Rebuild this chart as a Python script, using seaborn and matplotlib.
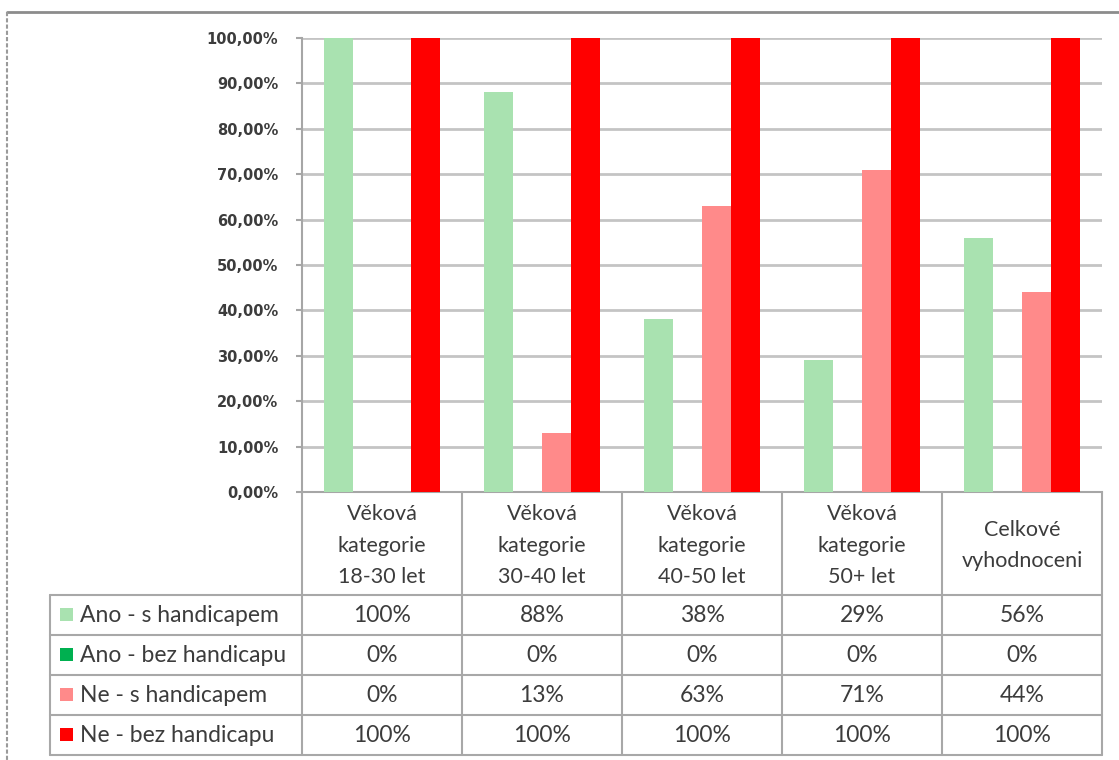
import matplotlib
matplotlib.use("Agg")
import matplotlib.pyplot as plt
from matplotlib.lines import Line2D
from matplotlib.patches import Rectangle
import seaborn as sns
import pandas as pd

# Categories (age groups + overall) and series values in percent
categories = [
    "Věková\nkategorie\n18-30 let",
    "Věková\nkategorie\n30-40 let",
    "Věková\nkategorie\n40-50 let",
    "Věková\nkategorie\n50+ let",
    "Celkové\nvyhodnoceni",
]
series_names = [
    "Ano - s handicapem",
    "Ano - bez handicapu",
    "Ne - s handicapem",
    "Ne - bez handicapu",
]
ano_s_handicapem = [100, 88, 38, 29, 56]
ano_bez_handicapu = [0, 0, 0, 0, 0]
ne_s_handicapem = [0, 13, 63, 71, 44]
ne_bez_handicapu = [100, 100, 100, 100, 100]
y_ticks = [0, 10, 20, 30, 40, 50, 60, 70, 80, 90, 100]

series_values = [ano_s_handicapem, ano_bez_handicapu, ne_s_handicapem, ne_bez_handicapu]
colors = ["#a9e2b0", "#00b050", "#ff8a8a", "#ff0000"]

rows = []
for name, vals in zip(series_names, series_values):
    for cat, v in zip(categories, vals):
        rows.append({"kategorie": cat, "serie": name, "hodnota": v})
df = pd.DataFrame(rows)

sns.set_theme(style="white")
plt.rcParams["font.family"] = ["Lato", "DejaVu Sans"]

W, H = 1119, 760
fig = plt.figure(figsize=(W / 100, H / 100), dpi=100)
fig.patch.set_facecolor("white")

# Plot area in pixel layout
px_left, px_right, px_top, px_bottom = 302, 1102, 38, 492
ax = fig.add_axes([px_left / W, 1 - px_bottom / H, (px_right - px_left) / W, (px_bottom - px_top) / H])

sns.barplot(
    data=df, x="kategorie", y="hodnota", hue="serie", hue_order=series_names,
    order=categories, palette=colors, saturation=1, width=0.725, linewidth=0,
    legend=False, ax=ax, zorder=3,
)

grid_col = "#c4c4c4"
axis_col = "#a6a6a6"
text_col = "#3c3c3c"

ax.set_ylim(0, 100)
ax.set_xlim(-0.5, len(categories) - 0.5)
ax.set_yticks(y_ticks)
ax.set_yticklabels([f"{t:.2f}".replace(".", ",") + "%" for t in y_ticks],
                   fontfamily="DejaVu Sans", fontweight="bold", fontsize=10.5, color=text_col)
ax.tick_params(axis="y", length=4, width=1.5, color=axis_col, pad=13, left=True)
ax.tick_params(axis="x", length=0, labelbottom=False)
ax.set_xlabel("")
ax.set_ylabel("")
ax.yaxis.grid(True, color=grid_col, linewidth=2, zorder=0)
ax.set_axisbelow(True)
for side in ["top", "right"]:
    ax.spines[side].set_visible(False)
for side in ["left", "bottom"]:
    ax.spines[side].set_color(axis_col)
    ax.spines[side].set_linewidth(1.5)

# Overlay axes in pixel coordinates for the data table and frame
ov = fig.add_axes([0, 0, 1, 1], zorder=5)
ov.set_xlim(0, W)
ov.set_ylim(H, 0)
ov.axis("off")
ov.patch.set_alpha(0)

line_col = "#a8a8a8"
lw = 1.5
col_w = (px_right - px_left) / len(categories)
col_x = [px_left + i * col_w for i in range(len(categories) + 1)]
header_bottom = 595
row_h = 40
row_y = [header_bottom + i * row_h for i in range(len(series_names) + 1)]
legend_left = 50

# vertical column lines
for x in col_x:
    ov.add_line(Line2D([x, x], [px_bottom, row_y[-1]], color=line_col, lw=lw))
ov.add_line(Line2D([legend_left, legend_left], [header_bottom, row_y[-1]], color=line_col, lw=lw))
# horizontal row lines
for y in row_y:
    ov.add_line(Line2D([legend_left, px_right], [y, y], color=line_col, lw=lw))

# header cells
for i, cat in enumerate(categories):
    cx = (col_x[i] + col_x[i + 1]) / 2
    ov.text(cx, (px_bottom + header_bottom) / 2 + 2, cat, ha="center", va="center",
            fontsize=15.5, color=text_col, linespacing=1.72)

# series rows: legend key, name, values
for r, (name, vals, c) in enumerate(zip(series_names, series_values, colors)):
    yc = (row_y[r] + row_y[r + 1]) / 2
    ov.add_patch(Rectangle((60, yc - 7), 13, 13, facecolor=c, edgecolor="none"))
    ov.text(80, yc, name, ha="left", va="center", fontsize=16.5, color=text_col)
    for i, v in enumerate(vals):
        cx = (col_x[i] + col_x[i + 1]) / 2
        ov.text(cx, yc, f"{v:.0f}%", ha="center", va="center", fontsize=16.5, color=text_col)

# outer chart frame
ov.add_line(Line2D([7, W], [12, 12], color="#8c8c8c", lw=2))
ov.add_line(Line2D([7, 7], [12, H], color="#9a9a9a", lw=1.5, linestyle=(0, (2, 1))))

fig.savefig("out.png", dpi=100, facecolor="white")
